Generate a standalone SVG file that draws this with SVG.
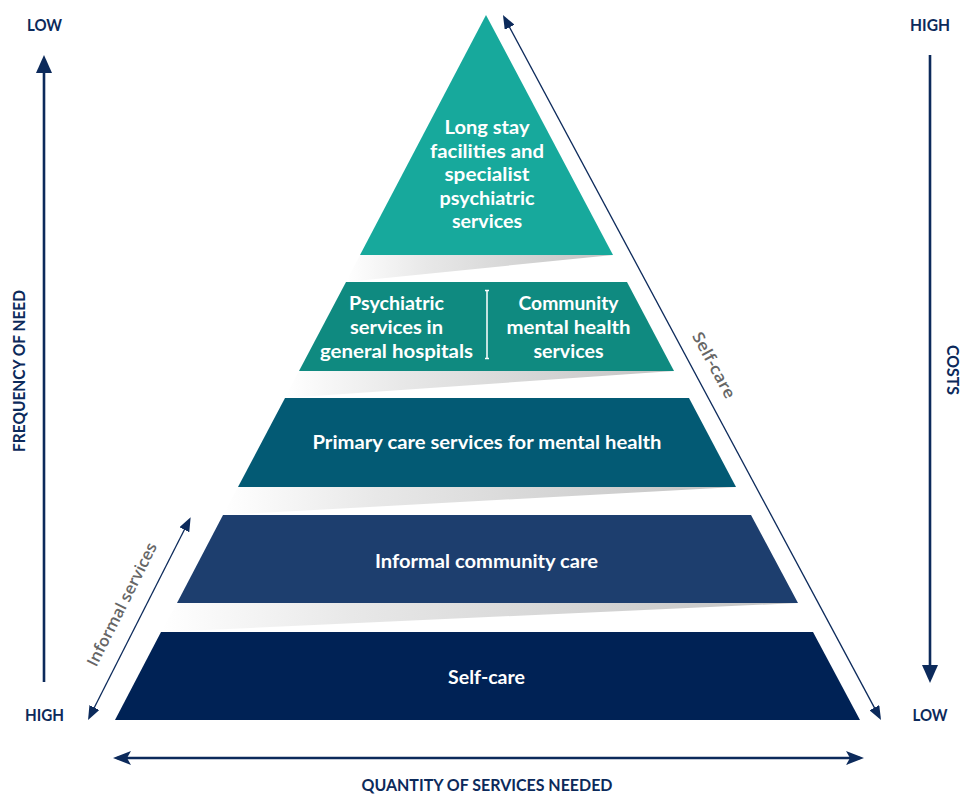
<svg xmlns="http://www.w3.org/2000/svg" width="963" height="795" viewBox="0 0 963 795">
  <style>
    .lbl { font-family: Lato, "Open Sans", "Liberation Sans", sans-serif; font-weight: 700; fill: #ffffff; font-size: 19px; text-anchor: middle; }
    .axis { font-family: Lato, "Open Sans", "Liberation Sans", sans-serif; font-weight: 700; fill: #0c2a5b; font-size: 17px; text-anchor: middle; }
    .side { font-family: "Open Sans", Lato, "Liberation Sans", sans-serif; font-weight: 600; fill: #666666; font-size: 16px; text-anchor: middle; }
    .big { stroke: #0c2a5b; stroke-width: 2.6; fill: none; }
    .thin { stroke: #0c2a5b; stroke-width: 1.3; fill: none; }
    .gap { fill: url(#gapGrad); }
  </style>
  <defs>
    <linearGradient id="gapGrad" x1="0" y1="0" x2="1" y2="0">
      <stop offset="0" stop-color="#ffffff"/>
      <stop offset="0.3" stop-color="#e8e8e8"/>
      <stop offset="1" stop-color="#c2c2c2"/>
    </linearGradient>
    <marker id="headBig" markerUnits="userSpaceOnUse" markerWidth="18" markerHeight="16" refX="14" refY="8" orient="auto-start-reverse">
      <path d="M0,0 L18,8 L0,16 z" fill="#0c2a5b"/>
    </marker>
    <marker id="headH" markerUnits="userSpaceOnUse" markerWidth="18" markerHeight="14" refX="14" refY="7" orient="auto-start-reverse">
      <path d="M0,0 L18,7 L0,14 L4,7 z" fill="#0c2a5b"/>
    </marker>
    <marker id="headThin" markerUnits="userSpaceOnUse" markerWidth="14" markerHeight="11" refX="11" refY="5.5" orient="auto-start-reverse">
      <path d="M0,0 L14,5.5 L0,11 z" fill="#0c2a5b"/>
    </marker>
  </defs>

  <!-- gray gaps (hidden faces) -->
  <g id="gaps">
    <polygon class="gap" points="360,255 613,255 346,282"/>
    <polygon class="gap" points="299,371 674,371 285,398"/>
    <polygon class="gap" points="238,487 736,487 223,515"/>
    <polygon class="gap" points="177,603 798,603 161,632"/>
  </g>

  <g id="level1">
    <polygon points="486,15 613,255 360,255" fill="#17a99c"/>
    <text class="lbl" x="487" y="134" textLength="85" lengthAdjust="spacingAndGlyphs">Long stay</text>
    <text class="lbl" x="487" y="157.5" textLength="114" lengthAdjust="spacingAndGlyphs">facilities and</text>
    <text class="lbl" x="487" y="181" textLength="85" lengthAdjust="spacingAndGlyphs">specialist</text>
    <text class="lbl" x="487" y="204.5" textLength="95" lengthAdjust="spacingAndGlyphs">psychiatric</text>
    <text class="lbl" x="487" y="228" textLength="70" lengthAdjust="spacingAndGlyphs">services</text>
  </g>

  <g id="level2">
    <polygon points="346,282 627,282 674,371 299,371" fill="#0f8a80"/>
    <text class="lbl" x="396.5" y="310" textLength="95" lengthAdjust="spacingAndGlyphs">Psychiatric</text>
    <text class="lbl" x="396.5" y="334" textLength="93" lengthAdjust="spacingAndGlyphs">services in</text>
    <text class="lbl" x="396.5" y="358" textLength="153" lengthAdjust="spacingAndGlyphs">general hospitals</text>
    <text class="lbl" x="568.5" y="310" textLength="100" lengthAdjust="spacingAndGlyphs">Community</text>
    <text class="lbl" x="568.5" y="334" textLength="124" lengthAdjust="spacingAndGlyphs">mental health</text>
    <text class="lbl" x="568.5" y="358" textLength="70" lengthAdjust="spacingAndGlyphs">services</text>
    <path d="M487,290 V359 M485,290.5 H489 M485,358.5 H489" stroke="#ffffff" stroke-width="1.5" fill="none"/>
  </g>

  <g id="level3">
    <polygon points="285,398 689,398 736,487 238,487" fill="#035a74"/>
    <text class="lbl" x="487" y="449" textLength="349" lengthAdjust="spacingAndGlyphs">Primary care services for mental health</text>
  </g>

  <g id="level4">
    <polygon points="223,515 751,515 798,603 177,603" fill="#1d3e6e"/>
    <text class="lbl" x="486.5" y="568" textLength="223" lengthAdjust="spacingAndGlyphs">Informal community care</text>
  </g>

  <g id="level5">
    <polygon points="161,632 813,632 860,720 115,720" fill="#002255"/>
    <text class="lbl" x="486.5" y="684" textLength="77" lengthAdjust="spacingAndGlyphs">Self-care</text>
  </g>

  <g id="connectors">
    <line class="big" x1="44" y1="682" x2="44" y2="59" marker-end="url(#headBig)"/>
    <line class="big" x1="930" y1="55" x2="930" y2="679" marker-end="url(#headBig)"/>
    <line class="big" x1="117" y1="758" x2="860" y2="758" marker-start="url(#headH)" marker-end="url(#headH)"/>
    <line class="thin" x1="504.4" y1="17.6" x2="879.6" y2="717.4" marker-start="url(#headThin)" marker-end="url(#headThin)"/>
    <line class="thin" x1="189.3" y1="520" x2="89.4" y2="717.3" marker-start="url(#headThin)" marker-end="url(#headThin)"/>
  </g>

  <g id="labels">
    <text class="axis" x="44.5" y="31" textLength="35" lengthAdjust="spacingAndGlyphs">LOW</text>
    <text class="axis" x="930" y="31" textLength="40" lengthAdjust="spacingAndGlyphs">HIGH</text>
    <text class="axis" x="44.5" y="721" textLength="39" lengthAdjust="spacingAndGlyphs">HIGH</text>
    <text class="axis" x="930" y="721" textLength="35" lengthAdjust="spacingAndGlyphs">LOW</text>
    <text class="axis" x="487" y="791" textLength="251" lengthAdjust="spacingAndGlyphs">QUANTITY OF SERVICES NEEDED</text>
    <text class="axis" transform="translate(25,371) rotate(-90)" x="0" y="0" textLength="162" lengthAdjust="spacingAndGlyphs">FREQUENCY OF NEED</text>
    <text class="axis" transform="translate(947,370) rotate(90)" x="0" y="0" textLength="50" lengthAdjust="spacingAndGlyphs">COSTS</text>
    <text class="side" transform="translate(695.8,374.9) rotate(61.8)" x="0" y="-15" textLength="73" lengthAdjust="spacingAndGlyphs">Self-care</text>
    <text class="side" transform="translate(141.2,614.1) rotate(-63.3)" x="0" y="-16" textLength="136" lengthAdjust="spacingAndGlyphs">Informal services</text>
  </g>
</svg>
